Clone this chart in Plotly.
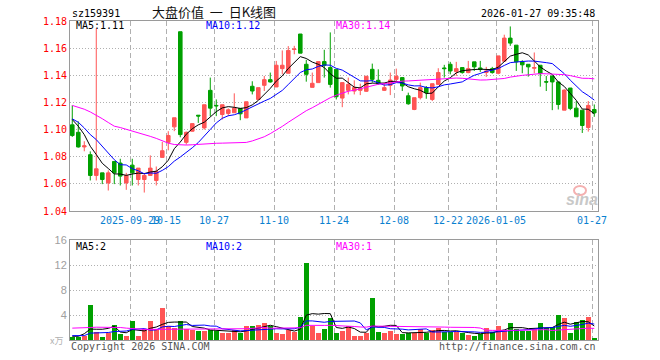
import numpy as np
import plotly.graph_objects as go

# ---------------- data ----------------
open_ = [1.1035, 1.0980, 1.0872, 1.0815, 1.0662, 1.0681, 1.0607, 1.0765, 1.0753, 1.0607,
         1.0738, 1.0632, 1.0632, 1.0662, 1.0625, 1.0795, 1.0906, 1.1020, 1.1721, 1.0906,
         1.0988, 1.1106, 1.1012, 1.1289, 1.1178, 1.1111, 1.1119, 1.1124, 1.1156, 1.1086,
         1.1319, 1.1222, 1.1326, 1.1368, 1.1314, 1.1449, 1.1415, 1.1590, 1.1704, 1.1481,
         1.1311, 1.1346, 1.1501, 1.1457, 1.1444, 1.1232, 1.1289, 1.1284, 1.1289, 1.1282,
         1.1444, 1.1363, 1.1289, 1.1326, 1.1370, 1.1383, 1.1249, 1.1148, 1.1235, 1.1309,
         1.1222, 1.1333, 1.1454, 1.1481, 1.1427, 1.1457, 1.1420, 1.1499, 1.1454, 1.1420,
         1.1449, 1.1415, 1.1504, 1.1674, 1.1622, 1.1499, 1.1481, 1.1452, 1.1474, 1.1353,
         1.1395, 1.1351, 1.1143, 1.1306, 1.1158, 1.1143, 1.1015, 1.1148]
high = [1.1178, 1.1060, 1.0914, 1.0839, 1.1746, 1.0681, 1.0699, 1.0765, 1.0785, 1.0681,
        1.0785, 1.0716, 1.0681, 1.0810, 1.0728, 1.0909, 1.0988, 1.1087, 1.1721, 1.0985,
        1.1044, 1.1106, 1.1183, 1.1383, 1.1222, 1.1183, 1.1156, 1.1267, 1.1156, 1.1205,
        1.1356, 1.1309, 1.1395, 1.1420, 1.1506, 1.1583, 1.1615, 1.1617, 1.1704, 1.1514,
        1.1420, 1.1501, 1.1588, 1.1716, 1.1444, 1.1346, 1.1383, 1.1363, 1.1338, 1.1393,
        1.1486, 1.1444, 1.1346, 1.1420, 1.1449, 1.1383, 1.1272, 1.1235, 1.1346, 1.1321,
        1.1338, 1.1452, 1.1477, 1.1499, 1.1499, 1.1457, 1.1506, 1.1499, 1.1506, 1.1462,
        1.1462, 1.1543, 1.1699, 1.1760, 1.1622, 1.1511, 1.1481, 1.1568, 1.1474, 1.1395,
        1.1395, 1.1351, 1.1296, 1.1306, 1.1210, 1.1143, 1.1210, 1.1185]
low = [1.0946, 1.0867, 1.0840, 1.0625, 1.0625, 1.0598, 1.0551, 1.0598, 1.0588, 1.0556,
       1.0588, 1.0588, 1.0536, 1.0662, 1.0588, 1.0795, 1.0847, 1.0988, 1.0943, 1.0889,
       1.0985, 1.1049, 1.1000, 1.1099, 1.1099, 1.1074, 1.1099, 1.1124, 1.1069, 1.1086,
       1.1259, 1.1217, 1.1284, 1.1346, 1.1314, 1.1407, 1.1415, 1.1555, 1.1563, 1.1353,
       1.1311, 1.1346, 1.1383, 1.1309, 1.1222, 1.1165, 1.1259, 1.1259, 1.1254, 1.1277,
       1.1346, 1.1331, 1.1284, 1.1254, 1.1346, 1.1284, 1.1183, 1.1143, 1.1222, 1.1227,
       1.1210, 1.1333, 1.1383, 1.1407, 1.1395, 1.1412, 1.1415, 1.1432, 1.1425, 1.1388,
       1.1412, 1.1407, 1.1504, 1.1617, 1.1432, 1.1415, 1.1390, 1.1415, 1.1316, 1.1284,
       1.1143, 1.1148, 1.1143, 1.1143, 1.1094, 1.0975, 1.0985, 1.1094]
close = [1.0956, 1.0872, 1.0880, 1.0662, 1.0711, 1.0632, 1.0681, 1.0681, 1.0657, 1.0662,
         1.0681, 1.0716, 1.0662, 1.0716, 1.0691, 1.0844, 1.0956, 1.1087, 1.0963, 1.0980,
         1.1044, 1.1100, 1.1183, 1.1158, 1.1175, 1.1183, 1.1146, 1.1158, 1.1116, 1.1205,
         1.1284, 1.1309, 1.1368, 1.1351, 1.1474, 1.1474, 1.1583, 1.1593, 1.1563, 1.1407,
         1.1341, 1.1501, 1.1474, 1.1333, 1.1242, 1.1346, 1.1333, 1.1309, 1.1304, 1.1393,
         1.1370, 1.1338, 1.1309, 1.1365, 1.1393, 1.1321, 1.1190, 1.1235, 1.1309, 1.1272,
         1.1338, 1.1420, 1.1449, 1.1432, 1.1449, 1.1420, 1.1449, 1.1462, 1.1444, 1.1432,
         1.1420, 1.1543, 1.1674, 1.1637, 1.1499, 1.1477, 1.1462, 1.1457, 1.1412, 1.1350,
         1.1351, 1.1185, 1.1291, 1.1156, 1.1094, 1.1030, 1.1178, 1.1123]
volume = [0.5, 0.5, 0.7, 5.6, 1.3, 0.5, 1.2, 2.4, 1.0, 0.7,
          3.1, 0.7, 1.75, 3.1, 1.75, 5.2, 2.3, 2.0, 3.1, 1.75,
          1.65, 1.5, 1.5, 1.65, 1.5, 1.1, 1.1, 1.65, 1.2, 2.2,
          2.2, 2.45, 2.75, 2.2, 1.1, 0.95, 1.6, 1.3, 3.7, 12.3,
          2.2, 1.2, 1.8, 3.6, 1.2, 1.5, 2.3, 0.6, 0.7, 1.1,
          6.75, 1.3, 1.1, 1.5, 1.0, 1.0, 1.1, 1.2, 1.75, 1.1,
          1.65, 1.85, 1.3, 1.3, 1.3, 1.2, 0.85, 0.7, 0.95, 1.9,
          1.3, 2.3, 1.6, 2.75, 1.75, 1.5, 1.5, 1.75, 2.75, 1.85,
          2.1, 4.0, 3.55, 1.15, 2.9, 3.25, 3.7, 0.2]

# moving-average values before a full window exists
ma5_head = [1.1074, 1.1025, 1.0963, 1.0877]
ma10_head = [1.1079, 1.1054, 1.1012, 1.0963, 1.0926, 1.0877, 1.0827, 1.0778, 1.0741]
ma30_head = [1.1178, 1.1165, 1.1150, 1.1130, 1.1108, 1.1080, 1.1052, 1.1025, 1.1015, 1.1003,
             1.0990, 1.0975, 1.0962, 1.0950, 1.0935, 1.0915, 1.0900, 1.0890, 1.0886, 1.0886,
             1.0888, 1.0892, 1.0895, 1.0897, 1.0899, 1.0900, 1.0900, 1.0901, 1.0902]
vma5_head = [0.6, 0.6, 1.0, 1.75]
vma10_head = [0.7, 0.7, 0.7, 1.1, 1.1, 1.15, 1.2, 1.35, 1.4]
vma30_head = [1.9, 1.9, 1.95, 2.0, 2.05, 2.05, 2.05, 2.05, 2.0, 1.9,
              1.8, 1.75, 1.7, 1.7, 1.7, 1.75, 1.75, 1.7, 1.7, 1.7,
              1.7, 1.7, 1.7, 1.7, 1.75, 1.75, 1.75, 1.8, 1.8]

tick_idx = [10, 16, 24, 34, 44, 54, 63, 71, 87]
tick_labels = ["2025-09-29", "10-15", "10-27", "11-10", "11-24", "12-08", "12-22", "2026-01-05", "01-27"]
price_ticks = [1.04, 1.06, 1.08, 1.10, 1.12, 1.14, 1.16, 1.18]
vol_ticks = [4, 8, 12, 16]

code = "sz159391"
title = "大盘价值\u00a0\u00a0一\u00a0\u00a0日K线图"
stamp = "2026-01-27 09:35:48"


def moving_avg(vals, n, head):
    v = np.asarray(vals, dtype=float)
    return list(head) + [float(v[i - n + 1:i + 1].mean()) for i in range(n - 1, len(v))]


ma5 = moving_avg(close, 5, ma5_head)
ma10 = moving_avg(close, 10, ma10_head)
ma30 = moving_avg(close, 30, ma30_head)
vma5 = moving_avg(volume, 5, vma5_head)
vma10 = moving_avg(volume, 10, vma10_head)
vma30 = moving_avg(volume, 30, vma30_head)

x = list(range(len(close)))
RED = "#ff5555"
GREEN = "#00a000"
vol_colors = [RED if c >= o else GREEN for o, c in zip(open_, close)]

fig = go.Figure()
fig.add_trace(go.Candlestick(
    x=x, open=open_, high=high, low=low, close=close,
    increasing=dict(line=dict(color=RED, width=1), fillcolor=RED),
    decreasing=dict(line=dict(color=GREEN, width=1), fillcolor=GREEN),
    whiskerwidth=0, xaxis="x", yaxis="y", hoverinfo="skip"))
for vals, col in [(ma5, "#000000"), (ma10, "#0000ff"), (ma30, "#ff00ff")]:
    fig.add_trace(go.Scatter(x=x, y=vals, mode="lines", line=dict(color=col, width=1),
                             xaxis="x", yaxis="y", hoverinfo="skip"))
fig.add_trace(go.Bar(x=x, y=volume, marker=dict(color=vol_colors, line=dict(width=0)),
                     width=0.82, xaxis="x2", yaxis="y2", hoverinfo="skip"))
for vals, col in [(vma5, "#000000"), (vma10, "#0000ff"), (vma30, "#ff00ff")]:
    fig.add_trace(go.Scatter(x=x, y=vals, mode="lines", line=dict(color=col, width=1),
                             xaxis="x2", yaxis="y2", hoverinfo="skip"))

# ---------------- layout ----------------
L, R, T, B = 70, 598, 21, 340
W, H = 660, 360


def pxx(v):
    return (v - L) / (R - L)


def pxy(v):
    return (B - v) / (B - T)


x_lo = -0.38
x_hi = len(close) - 1 + 0.62
grid_pos = [i - 0.38 for i in tick_idx]
mono = "DejaVu Sans Mono"
frame = "#9a9a9a"
gridc = "#b0b0b0"

common_x = dict(range=[x_lo, x_hi], showline=True, mirror=True, linecolor=frame, linewidth=1,
                showgrid=True, gridcolor=gridc, griddash="5px,3px", gridwidth=1,
                zeroline=False, ticks="", tickvals=grid_pos, fixedrange=True)

fig.update_layout(
    width=W, height=H,
    margin=dict(l=L, r=W - R, t=T, b=H - B),
    paper_bgcolor="white", plot_bgcolor="white",
    showlegend=False, boxgap=0.15, bargap=0,
    xaxis=dict(**common_x, anchor="y", ticktext=tick_labels, tickangle=0,
               tickfont=dict(family=mono, size=10, color="#0a80d0"),
               rangeslider=dict(visible=False)),
    xaxis2=dict(**common_x, anchor="y2", matches="x", showticklabels=False),
    yaxis=dict(domain=[pxy(211), 1], range=[1.04, 1.18], tickvals=price_ticks,
               ticktext=["%.2f" % v for v in price_ticks],
               tickfont=dict(family=mono, size=10, color="#ff0000"),
               showline=True, mirror=True, linecolor=frame, linewidth=1,
               showgrid=True, gridcolor=gridc, griddash="1px,2px", zeroline=False,
               ticks="", fixedrange=True),
    yaxis2=dict(domain=[0, pxy(240)], range=[0, 16], tickvals=vol_ticks,
                ticktext=[str(v) for v in vol_ticks],
                tickfont=dict(family="Liberation Sans", size=11, color="#a0a0a0"),
                showline=True, mirror=True, linecolor=frame, linewidth=1,
                showgrid=True, gridcolor=gridc, griddash="1px,2px", zeroline=False,
                ticks="", fixedrange=True),
)


def note(text, xp, yp, xa="left", color="#000", size=10, family=mono, **kw):
    fig.add_annotation(text=text, x=pxx(xp), y=pxy(yp), xref="paper", yref="paper",
                       xanchor=xa, yanchor="middle", showarrow=False,
                       font=dict(family=family, size=size, color=color), **kw)


note(code, 70, 13)
note(title, 214, 11.5, xa="center", size=13, family="Noto Sans CJK SC", color="#111")
note(stamp, 597, 13, xa="right")
note("MA5:%.2f" % ma5[-1], 74, 26)
note("MA10:%.2f" % ma10[-1], 204, 26, color="#0000ff")
note("MA30:%.2f" % ma30[-1], 334, 26, color="#ff00ff")
note("MA5:%d" % int(vma5[-1]), 74, 246.5)
note("MA10:%d" % int(vma10[-1]), 204, 246.5, color="#0000ff")
note("MA30:%d" % int(vma30[-1]), 334, 246.5, color="#ff00ff")
note("Copyright 2026 SINA.COM", 69, 346.5, color="#555555")
note("http://finance.sina.com.cn", 598, 346.5, xa="right", color="#555555")
note("x万", 65, 341, xa="right", color="#b0b0b0", size=9, family="Noto Sans CJK SC")
note("<i><b>sina</b></i>", 582, 199, xa="center", color="#c8c8c8", size=16, family="Liberation Sans")
fig.add_shape(type="circle", xref="paper", yref="paper",
              x0=pxx(574), x1=pxx(586), y0=pxy(195), y1=pxy(186),
              line=dict(color="#f4b0b0", width=2))

fig.write_html("out.html")
